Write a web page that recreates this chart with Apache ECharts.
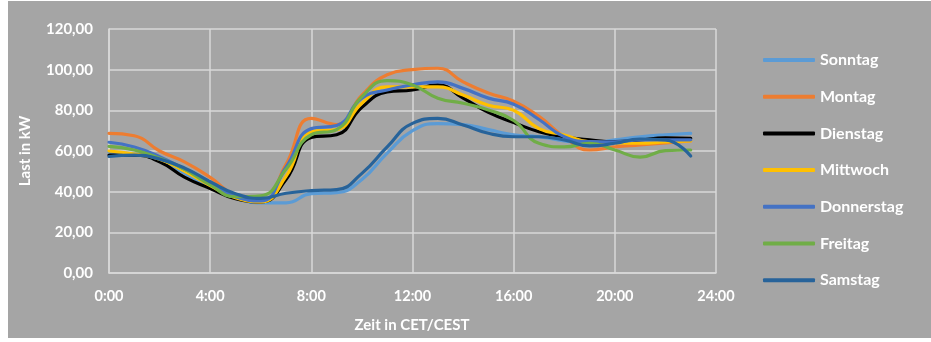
<!DOCTYPE html>
<html>
<head>
<meta charset="utf-8">
<script src="https://cdn.jsdelivr.net/npm/echarts@6/dist/echarts.min.js"></script>
<style>
  html, body { margin: 0; padding: 0; background: #ffffff; width: 931px; height: 342px; overflow: hidden; }
  #chart { position: absolute; left: 8px; top: 1px; width: 923px; height: 337px; background: #a5a5a5; }
</style>
</head>
<body>
<div id="chart"></div>
<script>
// Hour of day for each measurement
const hours = [0, 1, 2, 3, 4, 5, 6, 7, 8, 9, 10, 11, 12, 13, 14, 15, 16, 17, 18, 19, 20, 21, 22, 23];

// Load profile per weekday (kW)
const sonntag    = [59.5, 58.5, 56.0, 49.0, 42.5, 37.0, 34.5, 34.5, 39.0, 39.5, 46.0, 59.0, 70.0, 73.5, 73.0, 70.5, 68.0, 67.0, 65.0, 64.0, 65.5, 67.0, 68.0, 68.7];
const montag     = [68.7, 67.5, 60.0, 54.5, 47.0, 38.0, 35.0, 53.5, 76.0, 73.0, 87.5, 97.5, 100.0, 100.7, 94.0, 88.5, 84.5, 77.0, 67.0, 60.5, 62.0, 63.0, 64.0, 65.0];
const dienstag   = [58.0, 58.0, 54.7, 47.0, 41.6, 36.5, 35.0, 46.0, 66.7, 68.0, 81.5, 89.0, 90.0, 92.5, 86.0, 79.0, 74.0, 69.5, 67.0, 65.5, 64.6, 65.4, 66.5, 66.2];
const mittwoch   = [60.0, 58.5, 56.0, 50.0, 43.0, 37.0, 35.0, 47.5, 69.5, 70.5, 83.5, 91.5, 91.5, 91.5, 87.5, 82.5, 80.0, 71.0, 67.9, 64.5, 64.0, 63.8, 64.5, 65.0];
const donnerstag = [64.3, 62.0, 57.2, 51.0, 44.5, 37.5, 35.5, 52.0, 71.0, 72.5, 86.0, 90.0, 92.5, 94.0, 90.8, 86.0, 83.0, 75.5, 67.0, 64.6, 64.5, 65.5, 65.5, 65.5];
const freitag    = [62.3, 60.5, 56.4, 51.0, 43.3, 37.5, 38.0, 51.0, 68.0, 70.5, 86.7, 94.6, 92.5, 86.0, 83.5, 80.2, 75.0, 63.8, 62.0, 63.8, 60.5, 57.0, 60.2, 60.5];
const samstag    = [57.3, 58.0, 56.0, 51.5, 44.9, 39.0, 36.7, 39.2, 40.5, 41.0, 49.0, 62.0, 73.6, 76.0, 72.8, 68.7, 67.0, 67.0, 65.4, 62.5, 63.8, 65.9, 65.4, 57.5];

const dayNames  = ['Sonntag', 'Montag', 'Dienstag', 'Mittwoch', 'Donnerstag', 'Freitag', 'Samstag'];
const dayValues = [sonntag, montag, dienstag, mittwoch, donnerstag, freitag, samstag];
const dayColors = ['#5b9bd5', '#ed7d31', '#000000', '#ffc000', '#4472c4', '#70ad47', '#27639a'];

const FONT = 'Lato, "Open Sans", sans-serif';
const gridColor = '#d9d9d9';

const series = dayNames.map((name, i) => ({
  name: name,
  type: 'line',
  smooth: 0.5,
  showSymbol: false,
  symbol: 'none',
  color: dayColors[i],
  lineStyle: { width: 3.2, color: dayColors[i], cap: 'round', join: 'round' },
  data: hours.map((h, k) => [h, dayValues[i][k]])
}));

const chart = echarts.init(document.getElementById('chart'), null, { renderer: 'canvas' });
chart.setOption({
  backgroundColor: 'transparent',
  animation: false,
  grid: { left: 101, right: 215, top: 28, bottom: 65, containLabel: false },
  xAxis: {
    type: 'value',
    min: 0, max: 24, interval: 4,
    axisLine: { show: true, lineStyle: { color: gridColor, width: 1.5 } },
    axisTick: { show: false },
    splitLine: { show: true, lineStyle: { color: gridColor, width: 1.5 } },
    axisLabel: {
      color: '#ffffff', fontFamily: FONT, fontWeight: 'bold', fontSize: 14.5, margin: 16,
      formatter: v => v + ':00'
    }
  },
  yAxis: {
    type: 'value',
    min: 0, max: 120, interval: 20,
    name: 'Last in kW',
    nameLocation: 'middle',
    nameGap: 76,
    nameTextStyle: { color: '#ffffff', fontFamily: FONT, fontWeight: 'bold', fontSize: 15 },
    axisLine: { show: true, lineStyle: { color: gridColor, width: 1.5 } },
    axisTick: { show: false },
    splitLine: { show: true, lineStyle: { color: gridColor, width: 1.5 } },
    axisLabel: {
      color: '#ffffff', fontFamily: FONT, fontWeight: 'bold', fontSize: 15, margin: 16,
      formatter: v => v.toFixed(2).replace('.', ',')
    }
  },
  legend: {
    orient: 'vertical',
    left: 750, top: 46,
    icon: 'roundRect',
    itemWidth: 52, itemHeight: 4,
    itemGap: 20.7,
    textStyle: { color: '#ffffff', fontFamily: FONT, fontWeight: 'bold', fontSize: 16, lineHeight: 16 },
    data: dayNames
  },
  graphic: [{
    type: 'text',
    x: 404, y: 324,
    style: {
      text: 'Zeit in CET/CEST',
      fill: '#ffffff',
      font: 'bold 15px ' + FONT,
      textAlign: 'center',
      textVerticalAlign: 'middle'
    }
  }],
  series: series
});
</script>
</body>
</html>
